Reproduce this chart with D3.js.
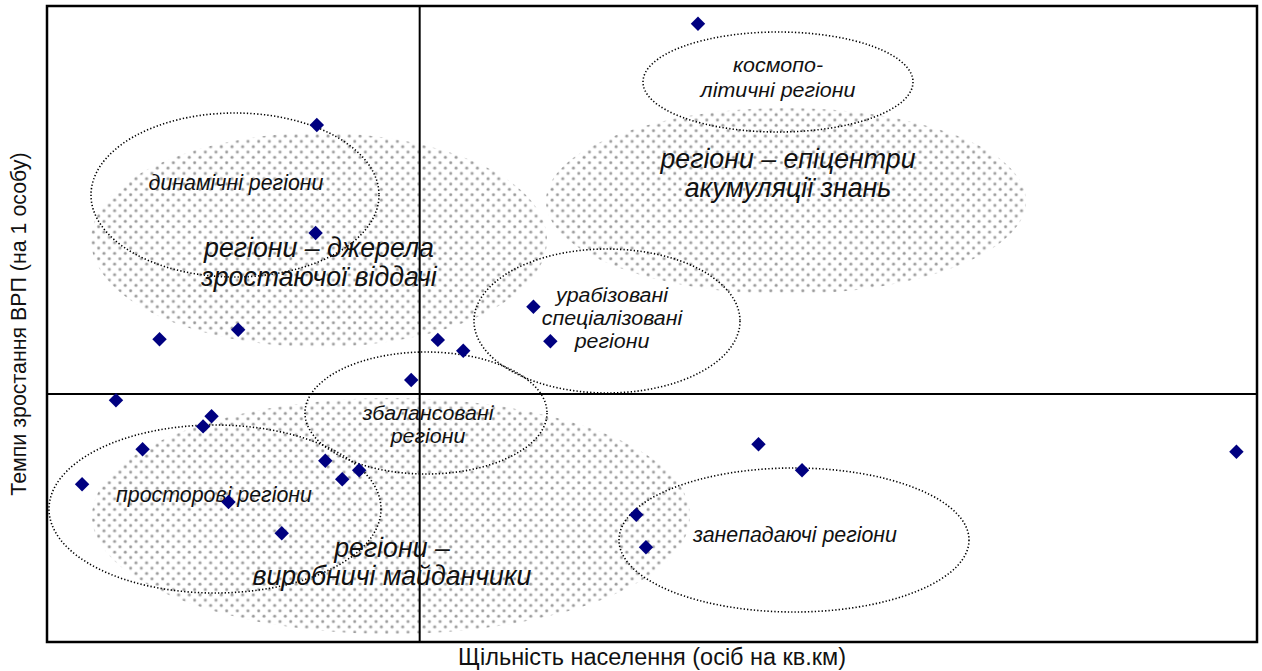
<!doctype html>
<html>
<head>
<meta charset="utf-8">
<style>
    body { margin: 0; background: #fff; }
    text { font-family: "Liberation Sans", Arial, sans-serif; fill: #111; }
    .lbl { font-style: italic; }
</style>
<script src="https://d3js.org/d3.v7.min.js"></script>
</head>
<body>
<svg width="1262" height="671"></svg>
<script>
// density (x) and GRP growth (y), relative units
var density = [53.8, 22.3, 22.2, 15.8, 9.3, 32.3, 34.4, 40.2, 41.6, 30.1, 5.7, 13.6, 12.9,
               7.9, 23.0, 25.8, 24.4, 2.9, 15.0, 19.4, 58.8, 62.4, 48.7, 49.5, 98.3];
var growth  = [97.2, 81.3, 64.3, 49.1, 47.6, 47.5, 45.8, 52.7, 47.3, 41.2, 38.0, 35.5, 33.9,
               30.3, 28.5, 27.0, 25.6, 24.8, 22.0, 17.1, 31.1, 27.0, 20.0, 14.9, 29.9];
var xSplit = 30.8, ySplit = 39.0;

var xTitle = "Щільність населення (осіб на кв.км)";
var yTitle = "Темпи зростання ВРП (на 1 особу)";

var svg = d3.select("svg"),
    plotL = 47, plotR = 1257, plotT = 6, plotB = 642;

var x = d3.scaleLinear().domain([0, 100]).range([plotL, plotR]),
    y = d3.scaleLinear().domain([0, 100]).range([plotB, plotT]);

// dotted fill pattern
var defs = svg.append("defs");
var pat = defs.append("pattern")
    .attr("id", "stip")
    .attr("patternUnits", "userSpaceOnUse")
    .attr("width", 10.67).attr("height", 10.67);
[[2.6, 2.6], [7.93, 7.93]].forEach(function(p) {
    pat.append("circle").attr("cx", p[0]).attr("cy", p[1]).attr("r", 1.9).attr("fill", "#dcdcdc");
    pat.append("circle").attr("cx", p[0]).attr("cy", p[1]).attr("r", 1.2).attr("fill", "#999");
});

var g = svg.append("g");

// big shaded zones (pixel layout)
var zones = [
    {cx: 319, cy: 240, rx: 228, ry: 107},
    {cx: 786, cy: 201, rx: 240, ry: 93},
    {cx: 391, cy: 516, rx: 299, ry: 118}
];
g.selectAll(".zone").data(zones).enter().append("ellipse")
    .attr("class", "zone")
    .attr("cx", function(d) { return d.cx; })
    .attr("cy", function(d) { return d.cy; })
    .attr("rx", function(d) { return d.rx; })
    .attr("ry", function(d) { return d.ry; })
    .attr("fill", "url(#stip)");

// quadrant lines
g.append("line")
    .attr("x1", x(xSplit)).attr("x2", x(xSplit))
    .attr("y1", plotT).attr("y2", plotB)
    .attr("stroke", "#000").attr("stroke-width", 2);
g.append("line")
    .attr("x1", plotL).attr("x2", plotR)
    .attr("y1", y(ySplit)).attr("y2", y(ySplit))
    .attr("stroke", "#000").attr("stroke-width", 2);

// dotted outlines
var rings = [
    {cx: 235, cy: 195, rx: 144, ry: 82},
    {cx: 778, cy: 82, rx: 135, ry: 50},
    {cx: 607, cy: 321, rx: 133, ry: 72},
    {cx: 426, cy: 413, rx: 121, ry: 61},
    {cx: 215, cy: 509, rx: 166, ry: 84},
    {cx: 794, cy: 540, rx: 175, ry: 72}
];
g.selectAll(".ring").data(rings).enter().append("ellipse")
    .attr("class", "ring")
    .attr("cx", function(d) { return d.cx; })
    .attr("cy", function(d) { return d.cy; })
    .attr("rx", function(d) { return d.rx; })
    .attr("ry", function(d) { return d.ry; })
    .attr("fill", "none")
    .attr("stroke", "#000")
    .attr("stroke-width", 1.6)
    .attr("stroke-dasharray", "1.3 2.1");

// labels
var labels = [
    {x: 236, y: 190, size: 23, sx: 0.93, lines: ["динамічні регіони"]},
    {x: 319, y: 257, size: 27, sx: 0.99, lh: 29, lines: ["регіони – джерела", "зростаючої віддачі"]},
    {x: 778, y: 72, size: 21, sx: 1.02, lh: 25, lines: ["космопо-", "літичні регіони"]},
    {x: 788, y: 168, size: 27, sx: 0.99, lh: 29, lines: ["регіони – епіцентри", "акумуляції знань"]},
    {x: 612, y: 302, size: 20, sx: 1.07, lh: 23, lines: ["урабізовані", "спеціалізовані", "регіони"]},
    {x: 428, y: 420, size: 20, sx: 1.07, lh: 23, lines: ["збалансовані", "регіони"]},
    {x: 214, y: 502, size: 23, sx: 0.93, lines: ["просторові регіони"]},
    {x: 392, y: 557, size: 27, sx: 0.99, lh: 28, lines: ["регіони –", "виробничі майданчики"]},
    {x: 795, y: 542, size: 23, sx: 0.93, lines: ["занепадаючі регіони"]}
];
labels.forEach(function(l) {
    var t = g.append("text")
        .attr("class", "lbl")
        .attr("text-anchor", "middle")
        .attr("font-size", l.size + "px")
        .attr("transform", "translate(" + l.x + "," + l.y + ") scale(" + l.sx + ",1)");
    l.lines.forEach(function(s, i) {
        t.append("tspan").attr("x", 0).attr("y", i * (l.lh || 0)).text(s);
    });
});

// points
var pts = density.map(function(d, i) { return {x: d, y: growth[i]}; });
g.selectAll(".pt").data(pts).enter().append("path")
    .attr("class", "pt")
    .attr("d", d3.symbol().type(d3.symbolSquare).size(104))
    .attr("transform", function(d) {
        return "translate(" + x(d.x) + "," + y(d.y) + ") rotate(45)";
    })
    .attr("fill", "#000080");

// frame
svg.append("rect")
    .attr("x", plotL).attr("y", plotT)
    .attr("width", plotR - plotL).attr("height", plotB - plotT)
    .attr("fill", "none").attr("stroke", "#000").attr("stroke-width", 2.5);

// axis titles
svg.append("text")
    .attr("transform", "translate(" + ((plotL + plotR) / 2) + ",665) scale(1.02,1)")
    .attr("text-anchor", "middle").attr("font-size", "23px")
    .text(xTitle);
svg.append("text")
    .attr("transform", "translate(26," + ((plotT + plotB) / 2) + ") rotate(-90) scale(0.93,1)")
    .attr("text-anchor", "middle").attr("font-size", "23px")
    .text(yTitle);
</script>
</body>
</html>
